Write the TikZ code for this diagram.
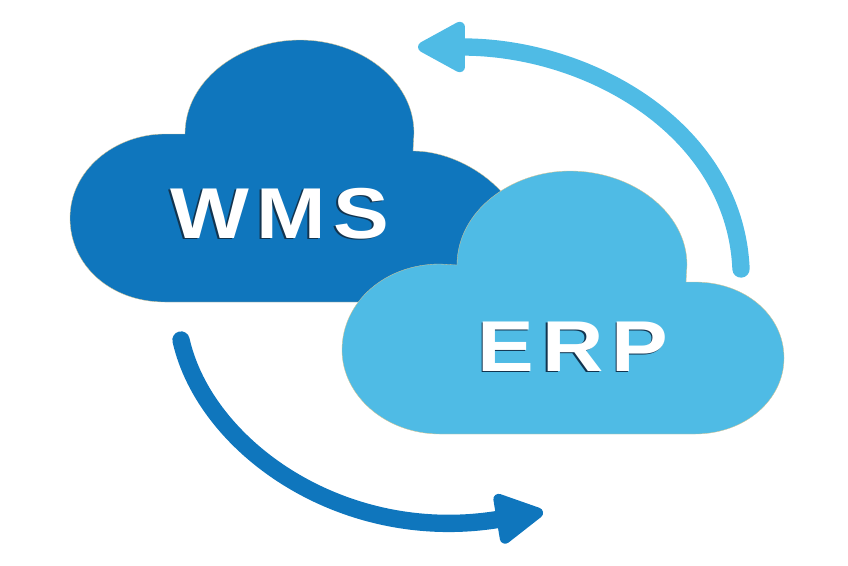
\documentclass[tikz,border=0pt]{standalone}
\usepackage{fontspec}
\usetikzlibrary{arrows.meta}
\newfontfamily\logoA[LetterSpace=10,FakeStretch=1.16]{Liberation Sans Bold}
\newfontfamily\logoB[LetterSpace=11,FakeStretch=1.18]{Liberation Sans Bold}
\definecolor{wmsblue}{HTML}{0F76BD}
\definecolor{erpblue}{HTML}{4FBBE5}
\definecolor{rimtan}{HTML}{D9C48F}
\definecolor{shadowblue}{HTML}{12344F}
\tikzset{
  wmscloud/.style={fill=wmsblue, draw=rimtan, line width=0.25pt},
  erpcloud/.style={fill=erpblue, draw=rimtan, line width=0.25pt},
  loopwms/.style={draw=wmsblue, line width=13pt, line cap=round, -{Triangle[length=40pt,width=41pt,line width=8pt,round]}},
  looperp/.style={draw=erpblue, line width=13pt, line cap=round, -{Triangle[length=40pt,width=41pt,line width=8pt,round]}},
  logotext/.style={text=white, inner sep=0pt, font=\fontsize{54pt}{54pt}\selectfont},
  logoshadow/.style={logotext, text=shadowblue},
}

\begin{document}
\begin{tikzpicture}[x=0.75pt, y=-0.75pt]
  \useasboundingbox (0,0) rectangle (848,565);

  % clouds
  \path[wmscloud] (185,134) .. controls (185,80) and (240,40) .. (300,40)
    .. controls (360,40) and (414,80) .. (414,133) -- (413,151)
    .. controls (465,151) and (520,195) .. (520,232)
    .. controls (520,270) and (490,302) .. (450,302)
    -- (165,302) .. controls (110,302) and (70,265) .. (70,218)
    .. controls (70,170) and (115,134) .. (165,134) -- cycle;
  \path[erpcloud] (457,265) .. controls (457,212) and (510,171) .. (570,171)
    .. controls (632,171) and (687,212) .. (687,265) -- (686,282) -- (695,282)
    .. controls (745,282) and (784,315) .. (784,358)
    .. controls (784,400) and (745,434) .. (695,434)
    -- (440,434) .. controls (385,434) and (342,395) .. (342,350)
    .. controls (342,302) and (385,264) .. (440,264) -- cycle;

  \node[logoshadow, anchor=base west] (wmsback) at (168.5,239.5) {\logoA WMS};
  \node[logotext, anchor=base west] (wms) at (170,238) {\logoA WMS};
  \node[logoshadow, anchor=base west] (erpback) at (476,372.5) {\logoB ERP};
  \node[logotext, anchor=base west] (erp) at (477.5,371) {\logoB ERP};

  % loop arrows
  \coordinate (wmstail) at (181,340);
  \coordinate (wmshead) at (543,512);
  \coordinate (erptail) at (741,269);
  \coordinate (erphead) at (418,47);
  \draw[loopwms] (wmstail) .. controls (205,447) and (343,545) .. (wmshead);
  \draw[looperp] (erptail) .. controls (735,130) and (590,47) .. (erphead);
\end{tikzpicture}
\end{document}
